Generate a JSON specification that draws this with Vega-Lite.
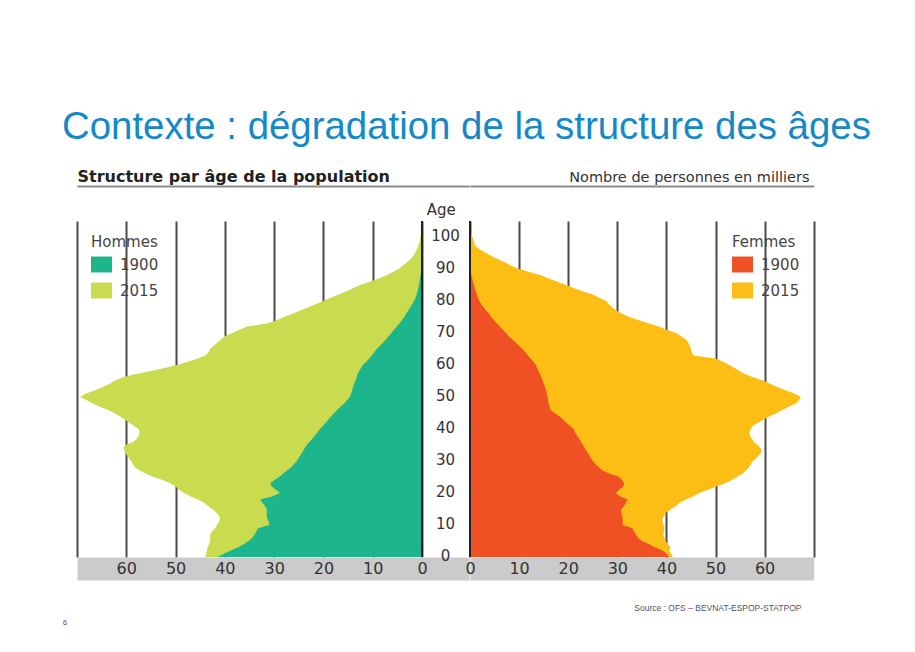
{
  "$schema": "https://vega.github.io/schema/vega-lite/v6.json",
  "padding": {"left": 62, "top": 107, "right": 10, "bottom": 10},
  "title": {"text": "Contexte : dégradation de la structure des âges", "anchor": "start", "frame": "group", "dx": -15, "offset": -9, "fontSize": 38.4, "font": "Liberation Sans", "fontWeight": "normal", "color": "#1589c7", "baseline": "alphabetic"},
  "datasets": {
    "hommes": [
      {"year":"2015","age":0,"value":44.0},{"year":"2015","age":1,"value":43.8},{"year":"2015","age":2,"value":43.6},{"year":"2015","age":3,"value":43.5},{"year":"2015","age":4,"value":43.2},{"year":"2015","age":5,"value":43.0},{"year":"2015","age":6,"value":43.0},{"year":"2015","age":7,"value":43.0},{"year":"2015","age":8,"value":42.6},{"year":"2015","age":9,"value":42.0},
      {"year":"2015","age":10,"value":41.6},{"year":"2015","age":11,"value":41.2},{"year":"2015","age":12,"value":41.0},{"year":"2015","age":13,"value":41.2},{"year":"2015","age":14,"value":41.8},{"year":"2015","age":15,"value":42.5},{"year":"2015","age":16,"value":43.5},{"year":"2015","age":17,"value":44.3},{"year":"2015","age":18,"value":45.5},{"year":"2015","age":19,"value":47.0},
      {"year":"2015","age":20,"value":48.3},{"year":"2015","age":21,"value":49.3},{"year":"2015","age":22,"value":50.0},{"year":"2015","age":23,"value":51.0},{"year":"2015","age":24,"value":52.5},{"year":"2015","age":25,"value":54.5},{"year":"2015","age":26,"value":56.0},{"year":"2015","age":27,"value":57.3},{"year":"2015","age":28,"value":58.2},{"year":"2015","age":29,"value":58.7},
      {"year":"2015","age":30,"value":59.0},{"year":"2015","age":31,"value":59.5},{"year":"2015","age":32,"value":60.0},{"year":"2015","age":33,"value":60.3},{"year":"2015","age":34,"value":60.6},{"year":"2015","age":35,"value":60.2},{"year":"2015","age":36,"value":58.5},{"year":"2015","age":37,"value":57.8},{"year":"2015","age":38,"value":57.5},{"year":"2015","age":39,"value":57.3},
      {"year":"2015","age":40,"value":57.5},{"year":"2015","age":41,"value":58.5},{"year":"2015","age":42,"value":59.5},{"year":"2015","age":43,"value":60.3},{"year":"2015","age":44,"value":61.3},{"year":"2015","age":45,"value":62.5},{"year":"2015","age":46,"value":63.8},{"year":"2015","age":47,"value":65.5},{"year":"2015","age":48,"value":66.8},{"year":"2015","age":49,"value":68.0},
      {"year":"2015","age":50,"value":69.4},{"year":"2015","age":51,"value":68.3},{"year":"2015","age":52,"value":66.5},{"year":"2015","age":53,"value":65.0},{"year":"2015","age":54,"value":63.5},{"year":"2015","age":55,"value":62.5},{"year":"2015","age":56,"value":61.0},{"year":"2015","age":57,"value":58.5},{"year":"2015","age":58,"value":55.5},{"year":"2015","age":59,"value":52.5},
      {"year":"2015","age":60,"value":49.7},{"year":"2015","age":61,"value":47.5},{"year":"2015","age":62,"value":45.5},{"year":"2015","age":63,"value":44.0},{"year":"2015","age":64,"value":43.3},{"year":"2015","age":65,"value":43.0},{"year":"2015","age":66,"value":42.3},{"year":"2015","age":67,"value":41.5},{"year":"2015","age":68,"value":40.8},{"year":"2015","age":69,"value":40.0},
      {"year":"2015","age":70,"value":38.5},{"year":"2015","age":71,"value":37.0},{"year":"2015","age":72,"value":35.5},{"year":"2015","age":73,"value":31.5},{"year":"2015","age":74,"value":29.5},{"year":"2015","age":75,"value":28.0},{"year":"2015","age":76,"value":26.3},{"year":"2015","age":77,"value":24.7},{"year":"2015","age":78,"value":23.2},{"year":"2015","age":79,"value":21.6},
      {"year":"2015","age":80,"value":20.1},{"year":"2015","age":81,"value":18.5},{"year":"2015","age":82,"value":16.9},{"year":"2015","age":83,"value":15.5},{"year":"2015","age":84,"value":14.0},{"year":"2015","age":85,"value":12.6},{"year":"2015","age":86,"value":10.6},{"year":"2015","age":87,"value":8.8},{"year":"2015","age":88,"value":7.3},{"year":"2015","age":89,"value":6.0},
      {"year":"2015","age":90,"value":4.8},{"year":"2015","age":91,"value":3.9},{"year":"2015","age":92,"value":3.1},{"year":"2015","age":93,"value":2.4},{"year":"2015","age":94,"value":1.8},{"year":"2015","age":95,"value":1.4},{"year":"2015","age":96,"value":1.1},{"year":"2015","age":97,"value":0.8},{"year":"2015","age":98,"value":0.6},{"year":"2015","age":99,"value":0.4},
      {"year":"2015","age":100,"value":0.3},{"year":"2015","age":101,"value":0.2},{"year":"2015","age":102,"value":0.1},{"year":"2015","age":103,"value":0},
      {"year":"1900","age":0,"value":41.5},{"year":"1900","age":1,"value":40.2},{"year":"1900","age":2,"value":38.8},{"year":"1900","age":3,"value":37.4},{"year":"1900","age":4,"value":36.2},{"year":"1900","age":5,"value":35.2},{"year":"1900","age":6,"value":34.4},{"year":"1900","age":7,"value":34.0},{"year":"1900","age":8,"value":33.6},{"year":"1900","age":9,"value":33.3},
      {"year":"1900","age":10,"value":31.0},{"year":"1900","age":11,"value":31.1},{"year":"1900","age":12,"value":31.4},{"year":"1900","age":13,"value":31.5},{"year":"1900","age":14,"value":31.5},{"year":"1900","age":15,"value":31.5},{"year":"1900","age":16,"value":31.9},{"year":"1900","age":17,"value":32.4},{"year":"1900","age":18,"value":32.8},{"year":"1900","age":19,"value":30.3},
      {"year":"1900","age":20,"value":28.8},{"year":"1900","age":21,"value":29.6},{"year":"1900","age":22,"value":30.5},{"year":"1900","age":23,"value":30.8},{"year":"1900","age":24,"value":30.0},{"year":"1900","age":25,"value":29.0},{"year":"1900","age":26,"value":28.2},{"year":"1900","age":27,"value":27.4},{"year":"1900","age":28,"value":26.6},{"year":"1900","age":29,"value":26.0},
      {"year":"1900","age":30,"value":25.4},{"year":"1900","age":31,"value":25.0},{"year":"1900","age":32,"value":24.6},{"year":"1900","age":33,"value":24.2},{"year":"1900","age":34,"value":23.8},{"year":"1900","age":35,"value":23.4},{"year":"1900","age":36,"value":22.8},{"year":"1900","age":37,"value":22.2},{"year":"1900","age":38,"value":21.7},{"year":"1900","age":39,"value":21.2},
      {"year":"1900","age":40,"value":20.7},{"year":"1900","age":41,"value":20.1},{"year":"1900","age":42,"value":19.5},{"year":"1900","age":43,"value":19.0},{"year":"1900","age":44,"value":18.4},{"year":"1900","age":45,"value":17.8},{"year":"1900","age":46,"value":17.2},{"year":"1900","age":47,"value":16.5},{"year":"1900","age":48,"value":15.8},{"year":"1900","age":49,"value":15.2},
      {"year":"1900","age":50,"value":14.7},{"year":"1900","age":51,"value":14.4},{"year":"1900","age":52,"value":14.2},{"year":"1900","age":53,"value":14.0},{"year":"1900","age":54,"value":13.8},{"year":"1900","age":55,"value":13.5},{"year":"1900","age":56,"value":13.3},{"year":"1900","age":57,"value":13.1},{"year":"1900","age":58,"value":12.8},{"year":"1900","age":59,"value":12.4},
      {"year":"1900","age":60,"value":12.0},{"year":"1900","age":61,"value":11.3},{"year":"1900","age":62,"value":10.7},{"year":"1900","age":63,"value":10.2},{"year":"1900","age":64,"value":9.7},{"year":"1900","age":65,"value":9.2},{"year":"1900","age":66,"value":8.5},{"year":"1900","age":67,"value":7.9},{"year":"1900","age":68,"value":7.3},{"year":"1900","age":69,"value":6.8},
      {"year":"1900","age":70,"value":6.2},{"year":"1900","age":71,"value":5.7},{"year":"1900","age":72,"value":5.1},{"year":"1900","age":73,"value":4.6},{"year":"1900","age":74,"value":4.1},{"year":"1900","age":75,"value":3.6},{"year":"1900","age":76,"value":3.2},{"year":"1900","age":77,"value":2.8},{"year":"1900","age":78,"value":2.4},{"year":"1900","age":79,"value":2.0},
      {"year":"1900","age":80,"value":1.6},{"year":"1900","age":81,"value":1.3},{"year":"1900","age":82,"value":1.1},{"year":"1900","age":83,"value":0.9},{"year":"1900","age":84,"value":0.8},{"year":"1900","age":85,"value":0.6},{"year":"1900","age":86,"value":0.5},{"year":"1900","age":87,"value":0.4},{"year":"1900","age":88,"value":0.3},{"year":"1900","age":89,"value":0.2},
      {"year":"1900","age":90,"value":0.1},{"year":"1900","age":91,"value":0}
    ],
    "femmes": [
      {"year":"2015","age":0,"value":41.3},{"year":"2015","age":1,"value":41.0},{"year":"2015","age":2,"value":40.5},{"year":"2015","age":3,"value":40.9},{"year":"2015","age":4,"value":40.3},{"year":"2015","age":5,"value":39.9},{"year":"2015","age":6,"value":39.6},{"year":"2015","age":7,"value":39.4},{"year":"2015","age":8,"value":39.5},{"year":"2015","age":9,"value":39.6},
      {"year":"2015","age":10,"value":39.5},{"year":"2015","age":11,"value":39.2},{"year":"2015","age":12,"value":39.2},{"year":"2015","age":13,"value":39.6},{"year":"2015","age":14,"value":40.0},{"year":"2015","age":15,"value":41.0},{"year":"2015","age":16,"value":42.0},{"year":"2015","age":17,"value":42.8},{"year":"2015","age":18,"value":44.0},{"year":"2015","age":19,"value":45.5},
      {"year":"2015","age":20,"value":46.7},{"year":"2015","age":21,"value":48.5},{"year":"2015","age":22,"value":50.1},{"year":"2015","age":23,"value":51.8},{"year":"2015","age":24,"value":53.3},{"year":"2015","age":25,"value":54.3},{"year":"2015","age":26,"value":55.5},{"year":"2015","age":27,"value":56.2},{"year":"2015","age":28,"value":56.8},{"year":"2015","age":29,"value":57.2},
      {"year":"2015","age":30,"value":57.6},{"year":"2015","age":31,"value":58.4},{"year":"2015","age":32,"value":59.0},{"year":"2015","age":33,"value":59.4},{"year":"2015","age":34,"value":59.2},{"year":"2015","age":35,"value":58.6},{"year":"2015","age":36,"value":57.8},{"year":"2015","age":37,"value":57.4},{"year":"2015","age":38,"value":57.0},{"year":"2015","age":39,"value":56.9},
      {"year":"2015","age":40,"value":57.2},{"year":"2015","age":41,"value":57.6},{"year":"2015","age":42,"value":58.8},{"year":"2015","age":43,"value":59.8},{"year":"2015","age":44,"value":61.0},{"year":"2015","age":45,"value":62.5},{"year":"2015","age":46,"value":63.7},{"year":"2015","age":47,"value":65.0},{"year":"2015","age":48,"value":66.4},{"year":"2015","age":49,"value":67.0},
      {"year":"2015","age":50,"value":67.4},{"year":"2015","age":51,"value":66.2},{"year":"2015","age":52,"value":64.4},{"year":"2015","age":53,"value":62.8},{"year":"2015","age":54,"value":61.3},{"year":"2015","age":55,"value":60.0},{"year":"2015","age":56,"value":58.0},{"year":"2015","age":57,"value":56.2},{"year":"2015","age":58,"value":55.0},{"year":"2015","age":59,"value":54.0},
      {"year":"2015","age":60,"value":52.8},{"year":"2015","age":61,"value":51.5},{"year":"2015","age":62,"value":50.0},{"year":"2015","age":63,"value":45.5},{"year":"2015","age":64,"value":45.2},{"year":"2015","age":65,"value":45.0},{"year":"2015","age":66,"value":44.8},{"year":"2015","age":67,"value":44.4},{"year":"2015","age":68,"value":44.0},{"year":"2015","age":69,"value":43.0},
      {"year":"2015","age":70,"value":42.0},{"year":"2015","age":71,"value":40.0},{"year":"2015","age":72,"value":38.5},{"year":"2015","age":73,"value":36.5},{"year":"2015","age":74,"value":34.4},{"year":"2015","age":75,"value":32.4},{"year":"2015","age":76,"value":31.0},{"year":"2015","age":77,"value":29.8},{"year":"2015","age":78,"value":29.0},{"year":"2015","age":79,"value":28.3},
      {"year":"2015","age":80,"value":27.7},{"year":"2015","age":81,"value":26.3},{"year":"2015","age":82,"value":25.0},{"year":"2015","age":83,"value":23.0},{"year":"2015","age":84,"value":21.2},{"year":"2015","age":85,"value":19.6},{"year":"2015","age":86,"value":17.8},{"year":"2015","age":87,"value":16.0},{"year":"2015","age":88,"value":14.6},{"year":"2015","age":89,"value":12.3},
      {"year":"2015","age":90,"value":10.0},{"year":"2015","age":91,"value":8.4},{"year":"2015","age":92,"value":7.2},{"year":"2015","age":93,"value":5.8},{"year":"2015","age":94,"value":4.4},{"year":"2015","age":95,"value":3.3},{"year":"2015","age":96,"value":2.1},{"year":"2015","age":97,"value":1.2},{"year":"2015","age":98,"value":0.9},{"year":"2015","age":99,"value":0.7},
      {"year":"2015","age":100,"value":0.5},{"year":"2015","age":101,"value":0.3},{"year":"2015","age":102,"value":0.15},{"year":"2015","age":103,"value":0},
      {"year":"1900","age":0,"value":40.6},{"year":"1900","age":1,"value":40.0},{"year":"1900","age":2,"value":39.2},{"year":"1900","age":3,"value":37.8},{"year":"1900","age":4,"value":36.5},{"year":"1900","age":5,"value":35.0},{"year":"1900","age":6,"value":34.2},{"year":"1900","age":7,"value":33.8},{"year":"1900","age":8,"value":33.4},{"year":"1900","age":9,"value":33.1},
      {"year":"1900","age":10,"value":31.1},{"year":"1900","age":11,"value":31.1},{"year":"1900","age":12,"value":31.1},{"year":"1900","age":13,"value":31.0},{"year":"1900","age":14,"value":30.8},{"year":"1900","age":15,"value":30.8},{"year":"1900","age":16,"value":31.4},{"year":"1900","age":17,"value":31.8},{"year":"1900","age":18,"value":32.1},{"year":"1900","age":19,"value":30.5},
      {"year":"1900","age":20,"value":29.7},{"year":"1900","age":21,"value":30.4},{"year":"1900","age":22,"value":31.2},{"year":"1900","age":23,"value":31.4},{"year":"1900","age":24,"value":31.0},{"year":"1900","age":25,"value":30.4},{"year":"1900","age":26,"value":28.5},{"year":"1900","age":27,"value":27.0},{"year":"1900","age":28,"value":26.3},{"year":"1900","age":29,"value":25.6},
      {"year":"1900","age":30,"value":25.0},{"year":"1900","age":31,"value":24.6},{"year":"1900","age":32,"value":24.2},{"year":"1900","age":33,"value":23.8},{"year":"1900","age":34,"value":23.4},{"year":"1900","age":35,"value":23.0},{"year":"1900","age":36,"value":22.6},{"year":"1900","age":37,"value":22.2},{"year":"1900","age":38,"value":21.8},{"year":"1900","age":39,"value":21.4},
      {"year":"1900","age":40,"value":21.1},{"year":"1900","age":41,"value":20.3},{"year":"1900","age":42,"value":19.6},{"year":"1900","age":43,"value":18.9},{"year":"1900","age":44,"value":18.2},{"year":"1900","age":45,"value":17.2},{"year":"1900","age":46,"value":16.4},{"year":"1900","age":47,"value":16.2},{"year":"1900","age":48,"value":16.0},{"year":"1900","age":49,"value":15.9},
      {"year":"1900","age":50,"value":15.8},{"year":"1900","age":51,"value":15.7},{"year":"1900","age":52,"value":15.5},{"year":"1900","age":53,"value":15.3},{"year":"1900","age":54,"value":15.1},{"year":"1900","age":55,"value":14.8},{"year":"1900","age":56,"value":14.6},{"year":"1900","age":57,"value":14.3},{"year":"1900","age":58,"value":14.0},{"year":"1900","age":59,"value":13.7},
      {"year":"1900","age":60,"value":13.4},{"year":"1900","age":61,"value":12.9},{"year":"1900","age":62,"value":12.3},{"year":"1900","age":63,"value":11.8},{"year":"1900","age":64,"value":11.3},{"year":"1900","age":65,"value":10.7},{"year":"1900","age":66,"value":10.0},{"year":"1900","age":67,"value":9.3},{"year":"1900","age":68,"value":8.6},{"year":"1900","age":69,"value":7.9},
      {"year":"1900","age":70,"value":7.3},{"year":"1900","age":71,"value":6.7},{"year":"1900","age":72,"value":6.1},{"year":"1900","age":73,"value":5.5},{"year":"1900","age":74,"value":4.9},{"year":"1900","age":75,"value":4.3},{"year":"1900","age":76,"value":3.9},{"year":"1900","age":77,"value":3.3},{"year":"1900","age":78,"value":2.8},{"year":"1900","age":79,"value":2.3},
      {"year":"1900","age":80,"value":1.9},{"year":"1900","age":81,"value":1.6},{"year":"1900","age":82,"value":1.4},{"year":"1900","age":83,"value":1.2},{"year":"1900","age":84,"value":1.0},{"year":"1900","age":85,"value":0.8},{"year":"1900","age":86,"value":0.6},{"year":"1900","age":87,"value":0.45},{"year":"1900","age":88,"value":0.3},{"year":"1900","age":89,"value":0.2},
      {"year":"1900","age":90,"value":0.1},{"year":"1900","age":91,"value":0}
    ],
    "zero": [{"value": 0}]
  },
  "spacing": 0,
  "bounds": "flush",
  "resolve": {"scale": {"color": "independent", "x": "independent"}, "legend": {"color": "independent"}},
  "hconcat": [
    {
      "width": 392.3,
      "height": 336,
      "layer": [
        {
          "data": {"name": "hommes"},
          "transform": [{"filter": "datum.year === '2015'"}],
          "mark": {"type": "area", "orient": "horizontal"},
          "encoding": {
            "x": {"field": "value", "type": "quantitative", "stack": null,
              "scale": {"domain": [-9.6, 70], "reverse": true, "nice": false},
              "axis": {"orient": "bottom", "values": [0, 10, 20, 30, 40, 50, 60, 70], "labels": false, "ticks": false, "tickSize": 0,
                "grid": true, "gridColor": "#4a4a4a", "gridWidth": 2, "gridOpacity": 1,
                "domainColor": "#cbcbcb", "domainWidth": 23, "offset": 11.5, "zindex": 0, "title": null}},
            "y": {"field": "age", "type": "quantitative", "scale": {"domain": [0, 105], "nice": false, "zero": false},
              "axis": {"orient": "right", "offset": -47.3, "values": [0, 10, 20, 30, 40, 50, 60, 70, 80, 90, 100], "ticks": false, "tickSize": 0, "domain": false,
                "labelAlign": "center", "labelPadding": 23, "labelBaseline": "middle", "labelOffset": -1.5, "labelFontSize": 15, "labelColor": "#333333", "labelFont": "DejaVu Sans", "labelFlush": false, "labelOverlap": false,
                "grid": false, "zindex": 1,
                "title": "Age", "titleAngle": 0, "titleX": 18.7, "titleY": -6.3, "titleAlign": "center", "titleAnchor": null, "titleBaseline": "alphabetic", "titleFontSize": 15, "titleFontWeight": "normal", "titleColor": "#333333", "titleFont": "DejaVu Sans"}},
            "color": {"field": "year", "type": "nominal", "scale": {"domain": ["1900", "2015"], "range": ["#1db68c", "#c9dc50"]},
              "legend": {"title": "Hommes", "orient": "top-left", "offset": 14, "padding": 0, "symbolType": "M-1,-0.76H1V0.76H-1Z", "symbolSize": 441, "symbolStrokeWidth": 0, "symbolOpacity": 1,
                "titleFontSize": 15, "titleFont": "DejaVu Sans", "titleFontWeight": "normal", "titleColor": "#444444", "titlePadding": 4,
                "labelFontSize": 15, "labelFont": "DejaVu Sans", "labelColor": "#444444", "labelOffset": 8, "rowPadding": 7}}
          }
        },
        {
          "data": {"name": "hommes"},
          "transform": [{"filter": "datum.year === '1900'"}],
          "mark": {"type": "area", "orient": "horizontal"},
          "encoding": {
            "x": {"field": "value", "type": "quantitative", "stack": null,
              "axis": {"orient": "bottom", "values": [0, 10, 20, 30, 40, 50, 60], "offset": 11.5, "domain": false, "ticks": false, "tickSize": 0, "grid": false, "zindex": 2,
                "labelPadding": 0, "labelBaseline": "middle", "labelFontSize": 16, "labelColor": "#333333", "labelFont": "DejaVu Sans", "labelFlush": false, "labelOverlap": false,
                "title": "6", "titleX": -14.7, "titleY": 55.5, "titleAlign": "left", "titleAnchor": null, "titleBaseline": "alphabetic", "titleFontSize": 8, "titleFontWeight": "normal", "titleColor": "#555555", "titleFont": "Liberation Sans"}},
            "y": {"field": "age", "type": "quantitative", "axis": null},
            "color": {"field": "year", "type": "nominal", "scale": {"domain": ["1900", "2015"], "range": ["#1db68c", "#c9dc50"]},
              "legend": {"title": "Hommes", "orient": "top-left", "offset": 14, "padding": 0, "symbolType": "M-1,-0.76H1V0.76H-1Z", "symbolSize": 441, "symbolStrokeWidth": 0, "symbolOpacity": 1,
                "titleFontSize": 15, "titleFont": "DejaVu Sans", "titleFontWeight": "normal", "titleColor": "#444444", "titlePadding": 4,
                "labelFontSize": 15, "labelFont": "DejaVu Sans", "labelColor": "#444444", "labelOffset": 8, "rowPadding": 7}}
          }
        },
        {
          "data": {"name": "zero"},
          "mark": {"type": "rule", "color": "#222222", "strokeWidth": 2},
          "encoding": {
            "x": {"field": "value", "type": "quantitative",
              "axis": {"orient": "top", "offset": 35, "domainColor": "#8a8a8a", "domainWidth": 2, "labels": false, "ticks": false, "grid": false,
                "title": "Structure par âge de la population", "titleX": 0, "titleY": -5, "titleAlign": "left", "titleAnchor": null, "titleBaseline": "alphabetic", "titleFontSize": 16, "titleFontWeight": "bold", "titleColor": "#222222", "titleFont": "DejaVu Sans"}}
          }
        }
      ],
      "resolve": {"axis": {"x": "independent", "y": "independent"}}
    },
    {
      "width": 343.7,
      "height": 336,
      "layer": [
        {
          "data": {"name": "femmes"},
          "transform": [{"filter": "datum.year === '2015'"}],
          "mark": {"type": "area", "orient": "horizontal"},
          "encoding": {
            "x": {"field": "value", "type": "quantitative", "stack": null,
              "scale": {"domain": [0, 70], "nice": false},
              "axis": {"orient": "bottom", "values": [0, 10, 20, 30, 40, 50, 60, 70], "labels": false, "ticks": false, "tickSize": 0,
                "grid": true, "gridColor": "#4a4a4a", "gridWidth": 2, "gridOpacity": 1,
                "domainColor": "#cbcbcb", "domainWidth": 23, "offset": 11.5, "zindex": 0, "title": null}},
            "y": {"field": "age", "type": "quantitative", "scale": {"domain": [0, 105], "nice": false, "zero": false}, "axis": null},
            "color": {"field": "year", "type": "nominal", "scale": {"domain": ["1900", "2015"], "range": ["#ef5124", "#fcbd14"]},
              "legend": {"title": "Femmes", "orient": "top-right", "offset": 14, "padding": 0, "symbolType": "M-1,-0.76H1V0.76H-1Z", "symbolSize": 441, "symbolStrokeWidth": 0, "symbolOpacity": 1,
                "titleFontSize": 15, "titleFont": "DejaVu Sans", "titleFontWeight": "normal", "titleColor": "#444444", "titlePadding": 4,
                "labelFontSize": 15, "labelFont": "DejaVu Sans", "labelColor": "#444444", "labelOffset": 8, "rowPadding": 7}}
          }
        },
        {
          "data": {"name": "femmes"},
          "transform": [{"filter": "datum.year === '1900'"}],
          "mark": {"type": "area", "orient": "horizontal"},
          "encoding": {
            "x": {"field": "value", "type": "quantitative", "stack": null,
              "axis": {"orient": "bottom", "values": [0, 10, 20, 30, 40, 50, 60], "offset": 11.5, "domain": false, "ticks": false, "tickSize": 0, "grid": false, "zindex": 2,
                "labelPadding": 0, "labelBaseline": "middle", "labelFontSize": 16, "labelColor": "#333333", "labelFont": "DejaVu Sans", "labelFlush": false, "labelOverlap": false,
                "title": "Source : OFS – BEVNAT-ESPOP-STATPOP", "titleX": 331, "titleY": 41.5, "titleAlign": "right", "titleAnchor": null, "titleBaseline": "alphabetic", "titleFontSize": 8.5, "titleFontWeight": "normal", "titleColor": "#555555", "titleFont": "Liberation Sans Narrow, Liberation Sans"}},
            "y": {"field": "age", "type": "quantitative", "axis": null},
            "color": {"field": "year", "type": "nominal", "scale": {"domain": ["1900", "2015"], "range": ["#ef5124", "#fcbd14"]},
              "legend": {"title": "Femmes", "orient": "top-right", "offset": 14, "padding": 0, "symbolType": "M-1,-0.76H1V0.76H-1Z", "symbolSize": 441, "symbolStrokeWidth": 0, "symbolOpacity": 1,
                "titleFontSize": 15, "titleFont": "DejaVu Sans", "titleFontWeight": "normal", "titleColor": "#444444", "titlePadding": 4,
                "labelFontSize": 15, "labelFont": "DejaVu Sans", "labelColor": "#444444", "labelOffset": 8, "rowPadding": 7}}
          }
        },
        {
          "data": {"name": "zero"},
          "mark": {"type": "rule", "color": "#222222", "strokeWidth": 2},
          "encoding": {
            "x": {"field": "value", "type": "quantitative",
              "axis": {"orient": "top", "offset": 35, "domainColor": "#8a8a8a", "domainWidth": 2, "labels": false, "ticks": false, "grid": false,
                "title": "Nombre de personnes en milliers", "titleX": 339, "titleY": -5, "titleAlign": "right", "titleAnchor": null, "titleBaseline": "alphabetic", "titleFontSize": 14.5, "titleFontWeight": "normal", "titleColor": "#333333", "titleFont": "DejaVu Sans"}}
          }
        }
      ],
      "resolve": {"axis": {"x": "independent", "y": "independent"}}
    }
  ],
  "config": {"view": {"stroke": null}, "background": "#ffffff"}
}
